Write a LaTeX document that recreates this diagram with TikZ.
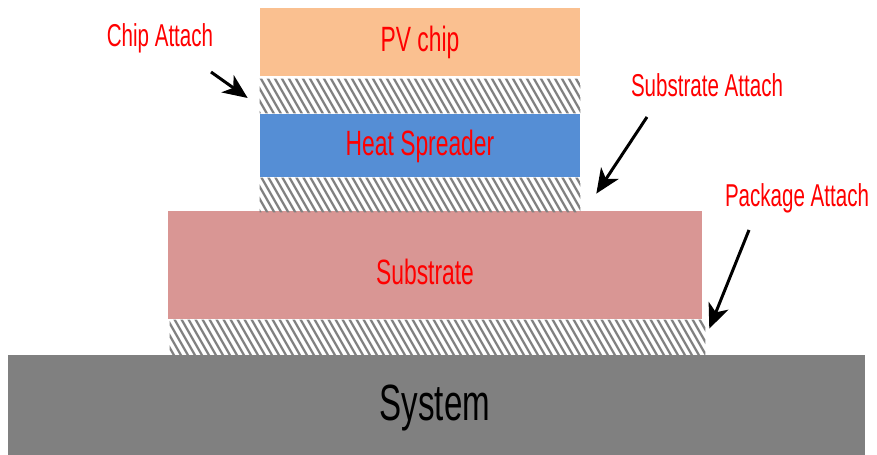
\documentclass[tikz,border=0pt]{standalone}
\usepackage{fontspec}
\setmainfont[FakeStretch=0.65]{Liberation Sans}
\usepackage{xcolor}
\usepackage{tikz}
\usetikzlibrary{arrows.meta, positioning, calc}

\definecolor{chiporange}{RGB}{250,192,144}
\definecolor{spreaderblue}{RGB}{85,142,213}
\definecolor{substratepink}{RGB}{217,150,148}
\definecolor{systemgray}{RGB}{128,128,128}

\begin{document}
\begin{tikzpicture}[
    x=0.02cm, y=-0.02cm,
    layer/.style={rectangle, draw=none, inner sep=0pt, minimum width=6.4cm, font=\fontsize{20}{22}\selectfont, text=red},
    attach/.style={rectangle, draw=none, inner sep=0pt, minimum width=6.4cm, minimum height=0.68cm},
    tag/.style={font=\fontsize{18}{20}\selectfont, text=red},
    arrow/.style={-{Stealth[length=14pt,width=12pt,inset=4pt]}, line width=1.7pt},
    hatchline/.style={draw=systemgray, line width=1.3pt}
]
\useasboundingbox (0,0) rectangle (877,455);

% ==========================================
% CAPAS
% ==========================================
\node[layer, fill=chiporange, minimum height=1.36cm] (chip) at (420,42) {PV chip};
\node[attach] (ca) at (420,96) {};
\node[layer, fill=spreaderblue, minimum height=1.26cm] (hs) at (420,146) {Heat Spreader};
\node[attach] (sa) at (420,195) {};
\node[layer, fill=substratepink, minimum width=10.68cm, minimum height=2.16cm] (sub) at (435,265) {};
\node[tag, font=\fontsize{20}{22}\selectfont] (subtxt) at (425,272) {Substrate};
\node[attach, minimum width=10.7cm, minimum height=0.7cm] (pa) at (437.5,337.5) {};
\node[rectangle, fill=systemgray, inner sep=0pt, minimum width=17.14cm, minimum height=2cm] (sys) at (436.5,405) {};
\node[font=\fontsize{29}{31}\selectfont] (systxt) at (435,408) {System};

% rayado de las uniones
\begin{scope}
\clip (ca.north west) rectangle (ca.south east)
      (sa.north west) rectangle (sa.south east)
      (pa.north west) rectangle (pa.south east);
\foreach \c in {-120,-113,...,880} {
    \draw[hatchline] (\c,0) -- (\c+260,455);
}
\end{scope}

% ==========================================
% ETIQUETAS
% ==========================================
\node[tag] (catxt) at (160,38) {Chip Attach};
\node[tag] (satxt) at (707,85) {Substrate Attach};
\node[tag] (patxt) at (797,198) {Package Attach};

\coordinate (catail) at (211,72);
\coordinate (satail) at (647,117);
\coordinate (patail) at (749,230);

\draw[arrow] (catail) -- ([xshift=-0.24cm, yshift=-0.04cm]ca.west);
\draw[arrow] (satail) -- ([xshift=0.32cm, yshift=-0.32cm]sa.north east);
\draw[arrow] (patail) -- ([xshift=0.08cm, yshift=-0.18cm]pa.north east);

\end{tikzpicture}
\end{document}
